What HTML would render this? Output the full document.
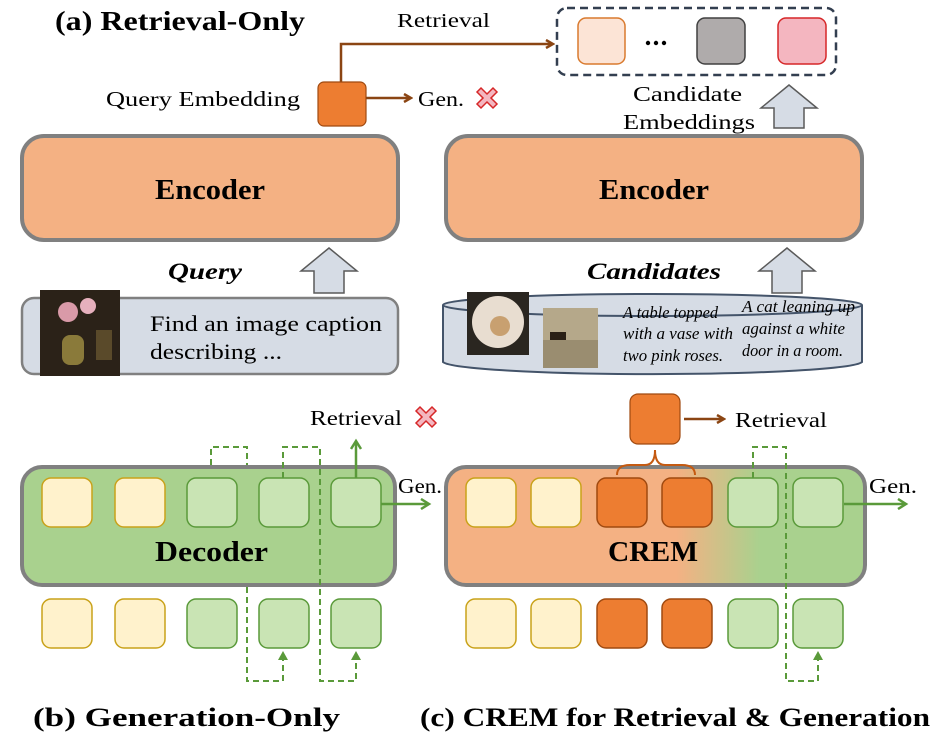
<!DOCTYPE html>
<html><head><meta charset="utf-8"><style>body{margin:0;background:#fff}svg{display:block}text{font-family:"Liberation Serif",serif}</style></head>
<body>
<svg width="947" height="747" viewBox="0 0 947 747" xmlns="http://www.w3.org/2000/svg">
<defs>
<marker id="ab" markerWidth="10" markerHeight="10" refX="7" refY="5" orient="auto" markerUnits="userSpaceOnUse"><path d="M1,1 L8,5 L1,9" fill="none" stroke="#8B4513" stroke-width="2.5"/></marker>
<marker id="ag" markerWidth="12" markerHeight="12" refX="8" refY="6" orient="auto" markerUnits="userSpaceOnUse"><path d="M1,1 L9,6 L1,11" fill="none" stroke="#5A9A3A" stroke-width="2.5"/></marker>
<marker id="agf" markerWidth="10" markerHeight="10" refX="8" refY="5" orient="auto" markerUnits="userSpaceOnUse"><path d="M0,0 L9,5 L0,10Z" fill="#5A9A3A"/></marker>
<linearGradient id="gr" x1="0" x2="1" y1="0" y2="0"><stop offset="0.55" stop-color="#F4B183"/><stop offset="0.75" stop-color="#A9D18E"/></linearGradient>
<g id="x"><path d="M-6,-10 L0,-4 L6,-10 L10,-6 L4,0 L10,6 L6,10 L0,4 L-6,10 L-10,6 L-4,0 L-10,-6Z" fill="#F4B6C0" stroke="#D62728" stroke-width="1.5"/></g>
</defs>
<g lengthAdjust="spacingAndGlyphs">
<text x="55" y="30" font-size="27" font-weight="bold" textLength="250" lengthAdjust="spacingAndGlyphs">(a) Retrieval-Only</text>
<text x="397" y="27" font-size="20" textLength="93" lengthAdjust="spacingAndGlyphs">Retrieval</text>
</g>
<path d="M341,82 V44 H552" fill="none" stroke="#8B4513" stroke-width="2.5" marker-end="url(#ab)"/>
<rect x="557" y="8" width="279" height="67" rx="10" fill="none" stroke="#333F50" stroke-width="2.5" stroke-dasharray="8,5"/>
<rect x="578" y="18" width="47" height="46" rx="8" fill="#FCE4D6" stroke="#D97A2E" stroke-width="1.5"/>
<g fill="#000"><circle cx="648" cy="43" r="2.2"/><circle cx="656" cy="43" r="2.2"/><circle cx="664" cy="43" r="2.2"/></g>
<rect x="697" y="18" width="48" height="46" rx="8" fill="#AFABAB" stroke="#404040" stroke-width="1.5"/>
<rect x="778" y="18" width="48" height="46" rx="8" fill="#F4B6C0" stroke="#D62728" stroke-width="1.5"/>
<text x="106" y="106" font-size="21" textLength="194" lengthAdjust="spacingAndGlyphs">Query Embedding</text>
<rect x="318" y="82" width="48" height="44" rx="6" fill="#ED7D31" stroke="#A04A10" stroke-width="1.2"/>
<path d="M366,98 H410" stroke="#8B4513" stroke-width="2.5" marker-end="url(#ab)"/>
<text x="418" y="106" font-size="21" textLength="46" lengthAdjust="spacingAndGlyphs">Gen.</text>
<use href="#x" x="487" y="98"/>
<text x="633" y="101" font-size="21" textLength="109" lengthAdjust="spacingAndGlyphs">Candidate</text>
<text x="623" y="129" font-size="21" textLength="132" lengthAdjust="spacingAndGlyphs">Embeddings</text>
<path d="M774,128 V108 H761 L789,85 L817,108 H804 V128Z" fill="#D6DCE5" stroke="#5A5A5A" stroke-width="1.5"/>
<rect x="22" y="136" width="376" height="104" rx="22" fill="#F4B183" stroke="#808080" stroke-width="4"/>
<text x="155" y="199" font-size="28" font-weight="bold" textLength="110" lengthAdjust="spacingAndGlyphs">Encoder</text>
<rect x="446" y="136" width="416" height="104" rx="22" fill="#F4B183" stroke="#808080" stroke-width="4"/>
<text x="599" y="199" font-size="28" font-weight="bold" textLength="110" lengthAdjust="spacingAndGlyphs">Encoder</text>
<text x="168" y="279" font-size="23" font-weight="bold" font-style="italic" textLength="74" lengthAdjust="spacingAndGlyphs">Query</text>
<path d="M314,293 V271 H301 L329,248 L357,271 H344 V293Z" fill="#D6DCE5" stroke="#5A5A5A" stroke-width="1.5"/>
<text x="587" y="279" font-size="23" font-weight="bold" font-style="italic" textLength="134" lengthAdjust="spacingAndGlyphs">Candidates</text>
<path d="M772,293 V271 H759 L787,248 L815,271 H802 V293Z" fill="#D6DCE5" stroke="#5A5A5A" stroke-width="1.5"/>
<rect x="22" y="298" width="376" height="76" rx="12" fill="#D6DCE5" stroke="#808080" stroke-width="2.5"/>
<rect x="40" y="290" width="80" height="86" fill="#2b2218"/>
<circle cx="68" cy="312" r="10" fill="#d99aa8"/><circle cx="88" cy="306" r="8" fill="#e6b0bd"/><rect x="62" y="335" width="22" height="30" rx="8" fill="#8a7a3a"/><rect x="96" y="330" width="16" height="30" fill="#5a4a2a"/>
<text x="150" y="331" font-size="22" textLength="232" lengthAdjust="spacingAndGlyphs">Find an image caption</text>
<text x="150" y="359" font-size="22" textLength="132" lengthAdjust="spacingAndGlyphs">describing ...</text>
<path d="M443,305 V362 A210,13 0 0 0 862,362 V305" fill="#D6DCE5" stroke="#44546A" stroke-width="2"/>
<ellipse cx="652.5" cy="305" rx="209.5" ry="11" fill="#D6DCE5" stroke="#44546A" stroke-width="2"/>
<rect x="467" y="292" width="62" height="63" fill="#2a2620"/><circle cx="498" cy="322" r="26" fill="#e8ddd0"/><circle cx="500" cy="326" r="10" fill="#c8a070"/>
<rect x="543" y="308" width="55" height="60" fill="#b5a88a"/><rect x="543" y="340" width="55" height="28" fill="#9a8d70"/><rect x="550" y="332" width="16" height="8" fill="#2a2016"/>
<g font-size="17" font-style="italic"><text x="623" y="318" textLength="95" lengthAdjust="spacingAndGlyphs">A table topped</text><text x="623" y="339" textLength="110" lengthAdjust="spacingAndGlyphs">with a vase with</text><text x="623" y="361" textLength="100" lengthAdjust="spacingAndGlyphs">two pink roses.</text>
<text x="742" y="312" textLength="113" lengthAdjust="spacingAndGlyphs">A cat leaning up</text><text x="742" y="334" textLength="103" lengthAdjust="spacingAndGlyphs">against a white</text><text x="742" y="356" textLength="101" lengthAdjust="spacingAndGlyphs">door in a room.</text></g>
<text x="310" y="425" font-size="21" textLength="92" lengthAdjust="spacingAndGlyphs">Retrieval</text>
<use href="#x" x="426" y="417"/>
<rect x="22" y="467" width="373" height="118" rx="20" fill="#A9D18E" stroke="#808080" stroke-width="4"/>
<g stroke-width="1.5">
<rect x="42" y="478" width="50" height="49" rx="9" fill="#FFF2CC" stroke="#C9A21A"/>
<rect x="115" y="478" width="50" height="49" rx="9" fill="#FFF2CC" stroke="#C9A21A"/>
<rect x="187" y="478" width="50" height="49" rx="9" fill="#C9E4B4" stroke="#5A9A3A"/>
<rect x="259" y="478" width="50" height="49" rx="9" fill="#C9E4B4" stroke="#5A9A3A"/>
<rect x="331" y="478" width="50" height="49" rx="9" fill="#C9E4B4" stroke="#5A9A3A"/>
<rect x="42" y="599" width="50" height="49" rx="9" fill="#FFF2CC" stroke="#C9A21A"/>
<rect x="115" y="599" width="50" height="49" rx="9" fill="#FFF2CC" stroke="#C9A21A"/>
<rect x="187" y="599" width="50" height="49" rx="9" fill="#C9E4B4" stroke="#5A9A3A"/>
<rect x="259" y="599" width="50" height="49" rx="9" fill="#C9E4B4" stroke="#5A9A3A"/>
<rect x="331" y="599" width="50" height="49" rx="9" fill="#C9E4B4" stroke="#5A9A3A"/>
</g>
<text x="155" y="561" font-size="28" font-weight="bold" textLength="113" lengthAdjust="spacingAndGlyphs">Decoder</text>
<g fill="none" stroke="#5A9A3A" stroke-width="2" stroke-dasharray="6,4">
<path d="M211,465 V447 H247 V465"/>
<path d="M283,478 V447 H320 V681 H356 V652" marker-end="url(#agf)"/>
<path d="M247,587 V681 H283 V652" marker-end="url(#agf)"/>
</g>
<path d="M356,478 V442" stroke="#5A9A3A" stroke-width="2.5" marker-end="url(#ag)"/>
<path d="M381,504 H428" stroke="#5A9A3A" stroke-width="2.5" marker-end="url(#ag)"/>
<text x="398" y="493" font-size="21" textLength="44" lengthAdjust="spacingAndGlyphs">Gen.</text>
<rect x="446" y="467" width="419" height="118" rx="20" fill="url(#gr)" stroke="#808080" stroke-width="4"/>
<g stroke-width="1.5">
<rect x="466" y="478" width="50" height="49" rx="9" fill="#FFF2CC" stroke="#C9A21A"/>
<rect x="531" y="478" width="50" height="49" rx="9" fill="#FFF2CC" stroke="#C9A21A"/>
<rect x="597" y="478" width="50" height="49" rx="9" fill="#ED7D31" stroke="#A04A10"/>
<rect x="662" y="478" width="50" height="49" rx="9" fill="#ED7D31" stroke="#A04A10"/>
<rect x="728" y="478" width="50" height="49" rx="9" fill="#C9E4B4" stroke="#5A9A3A"/>
<rect x="793" y="478" width="50" height="49" rx="9" fill="#C9E4B4" stroke="#5A9A3A"/>
<rect x="466" y="599" width="50" height="49" rx="9" fill="#FFF2CC" stroke="#C9A21A"/>
<rect x="531" y="599" width="50" height="49" rx="9" fill="#FFF2CC" stroke="#C9A21A"/>
<rect x="597" y="599" width="50" height="49" rx="9" fill="#ED7D31" stroke="#A04A10"/>
<rect x="662" y="599" width="50" height="49" rx="9" fill="#ED7D31" stroke="#A04A10"/>
<rect x="728" y="599" width="50" height="49" rx="9" fill="#C9E4B4" stroke="#5A9A3A"/>
<rect x="793" y="599" width="50" height="49" rx="9" fill="#C9E4B4" stroke="#5A9A3A"/>
</g>
<text x="608" y="561" font-size="28" font-weight="bold" textLength="90" lengthAdjust="spacingAndGlyphs">CREM</text>
<g fill="none" stroke="#5A9A3A" stroke-width="2" stroke-dasharray="6,4"><path d="M753,478 V447 H786 V681 H818 V652" marker-end="url(#agf)"/></g>
<path d="M844,504 H905" stroke="#5A9A3A" stroke-width="2.5" marker-end="url(#ag)"/>
<text x="869" y="493" font-size="21" textLength="48" lengthAdjust="spacingAndGlyphs">Gen.</text>
<rect x="630" y="394" width="50" height="50" rx="8" fill="#ED7D31" stroke="#A04A10" stroke-width="1.2"/>
<path d="M684,419 H723" stroke="#8B4513" stroke-width="2.5" marker-end="url(#ab)"/>
<text x="735" y="427" font-size="21" textLength="92" lengthAdjust="spacingAndGlyphs">Retrieval</text>
<path d="M617,475 Q617,465 630,465 H645 Q655,465 655,450 Q655,465 665,465 H682 Q695,465 695,475" fill="none" stroke="#C55A11" stroke-width="2"/>
<text x="33" y="726" font-size="26" font-weight="bold" textLength="307" lengthAdjust="spacingAndGlyphs">(b) Generation-Only</text>
<text x="420" y="726" font-size="26" font-weight="bold" textLength="510" lengthAdjust="spacingAndGlyphs">(c) CREM for Retrieval &amp; Generation</text>
</svg>
</body></html>
